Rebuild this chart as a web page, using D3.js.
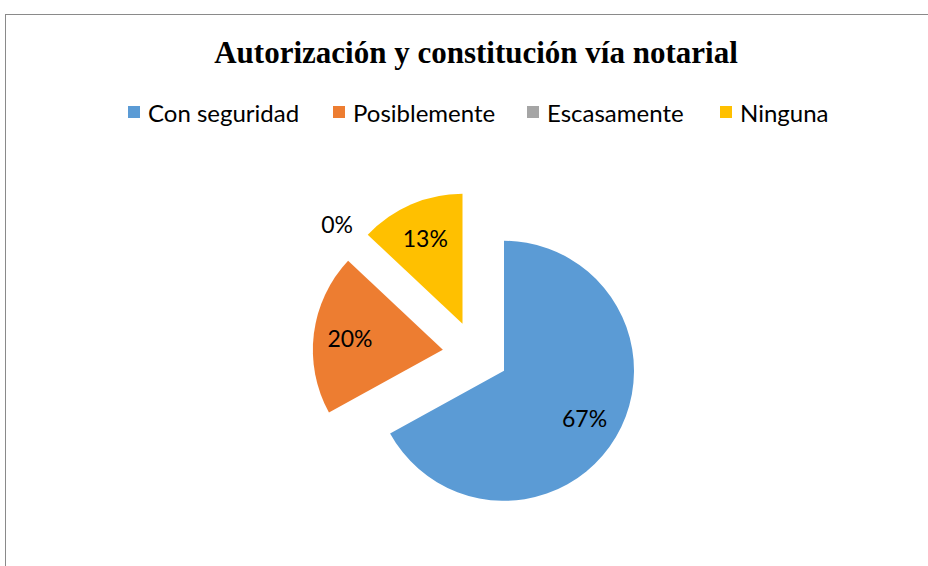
<!DOCTYPE html>
<meta charset="utf-8">
<style>
  body { margin: 0; background: #fff; }
</style>
<script src="https://d3js.org/d3.v7.min.js"></script>
<div id="my_dataviz"></div>
<script>

// data
const categories = ["Con seguridad", "Posiblemente", "Escasamente", "Ninguna"];
const values = [67, 20, 0, 13];
const colors = ["#5B9BD5", "#ED7D31", "#A5A5A5", "#FFC000"];
const title = "Autorización y constitución vía notarial";

const width = 928, height = 566;

const svg = d3.select("#my_dataviz")
  .append("svg")
    .attr("width", width)
    .attr("height", height);

// chart border
svg.append("rect")
    .attr("x", 5.5).attr("y", 14.5)
    .attr("width", 940).attr("height", 600)
    .attr("fill", "none")
    .attr("stroke", "#8a8a8a")
    .attr("stroke-width", 1);

// title
svg.append("text")
    .attr("x", 476)
    .attr("y", 63)
    .attr("text-anchor", "middle")
    .style("font-family", "'Liberation Serif', 'Times New Roman', serif")
    .style("font-weight", "bold")
    .style("font-size", "31px")
    .text(title);

// legend
const legendX = [128, 333, 527, 720];
const legend = svg.selectAll(".legend")
  .data(categories)
  .join("g")
    .attr("class", "legend")
    .attr("transform", (d, i) => `translate(${legendX[i]},112)`);
legend.append("rect")
    .attr("x", 0).attr("y", -6)
    .attr("width", 12).attr("height", 12)
    .attr("fill", (d, i) => colors[i]);
legend.append("text")
    .attr("x", 20)
    .attr("y", 0)
    .attr("dominant-baseline", "central")
    .style("font-family", "Lato, 'Open Sans', sans-serif")
    .style("font-size", "24px")
    .text(d => d);

// pie
const cx = 475.6, cy = 354, radius = 130, explode = 33;

const pie = d3.pie().sort(null).value(d => d)(values);
const arc = d3.arc().innerRadius(0).outerRadius(radius);

const g = svg.append("g").attr("transform", `translate(${cx},${cy})`);

function offset(d, dist) {
  const a = (d.startAngle + d.endAngle) / 2;
  return [dist * Math.sin(a), -dist * Math.cos(a)];
}

g.selectAll(".slice")
  .data(pie)
  .join("path")
    .attr("class", "slice")
    .attr("fill", (d, i) => colors[i])
    .attr("transform", d => `translate(${offset(d, explode)})`)
    .attr("d", arc);

// labels
g.selectAll(".lbl")
  .data(pie)
  .join("text")
    .attr("class", "lbl")
    .attr("transform", d => {
      const p = d.value === 0 ? offset(d, radius + 60) : offset(d, explode + radius * 0.72);
      return `translate(${p})`;
    })
    .attr("text-anchor", "middle")
    .attr("dominant-baseline", "central")
    .style("font-family", "Lato, 'Open Sans', sans-serif")
    .style("font-size", "23px")
    .text(d => d.value + "%");

</script>
